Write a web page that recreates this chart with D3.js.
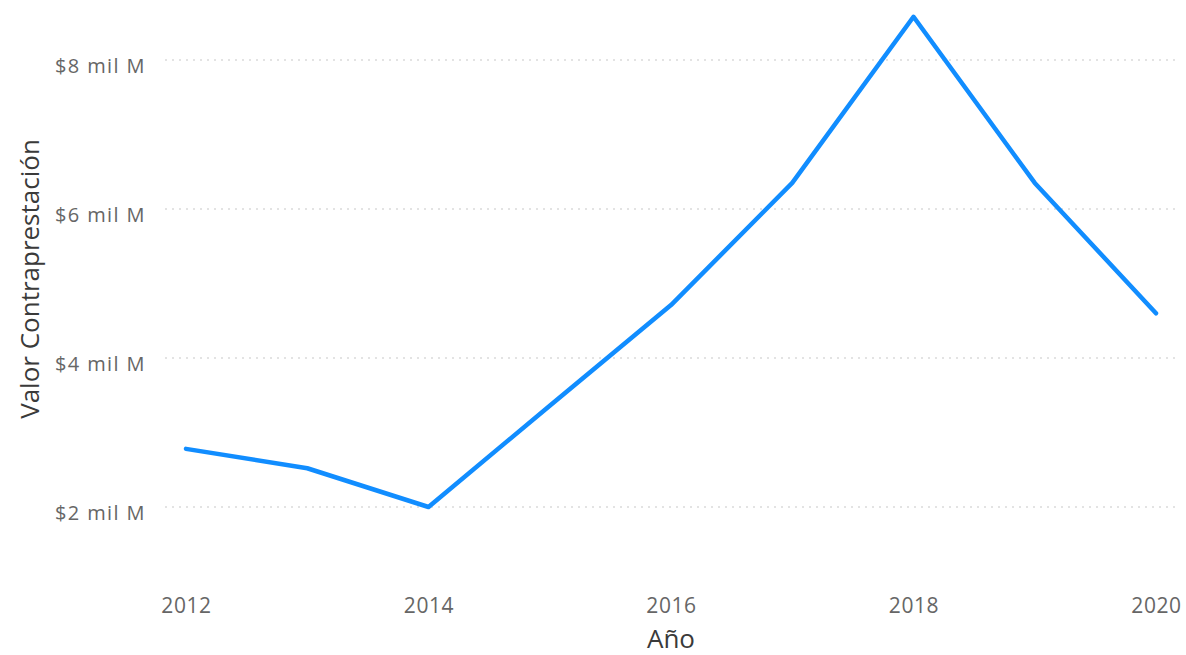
<!DOCTYPE html>
<html>
<head>
<meta charset="utf-8">
<script src="https://cdn.jsdelivr.net/npm/d3@7"></script>
<style>
body { margin: 0; background: #fff; }
svg { font-family: "Open Sans", "Noto Sans", sans-serif; }
</style>
</head>
<body>
<svg></svg>
<script>
// data (miles de millones)
var years = [2012, 2013, 2014, 2015, 2016, 2017, 2018, 2019, 2020];
var valores = [2.78, 2.52, 2.0, 3.36, 4.71, 6.35, 8.58, 6.35, 4.6];
var yTicks = [2, 4, 6, 8];
var xTicks = [2012, 2014, 2016, 2018, 2020];

var screen = {width: 1186, height: 655};

var svg = d3.select("svg")
    .attr("width", screen.width)
    .attr("height", screen.height);

var xScale = d3.scaleLinear()
    .domain([2012, 2020])
    .range([186, 1156]);

var yScale = d3.scaleLinear()
    .domain([2, 8])
    .range([507, 60]);

// gridlines
svg.append("g")
    .selectAll("line")
    .data(yTicks)
    .enter()
    .append("line")
    .attr("x1", 165)
    .attr("x2", 1176)
    .attr("y1", function(d){ return yScale(d); })
    .attr("y2", function(d){ return yScale(d); })
    .attr("stroke", "#c8c8c8")
    .attr("stroke-width", 1.2)
    .attr("stroke-dasharray", "2,5");

var yAxis = d3.axisLeft(yScale)
    .tickValues(yTicks)
    .tickSize(0)
    .tickPadding(0)
    .tickFormat(function(d){ return "$" + d + " mil M"; });

svg.append("g")
    .attr("transform", "translate(146,0)")
    .call(yAxis)
    .call(function(g){ g.select(".domain").remove(); })
    .selectAll("text")
    .attr("dy", "0.6em")
    .attr("font-size", 20)
    .attr("letter-spacing", 1.4)
    .attr("font-family", "Open Sans, sans-serif")
    .attr("fill", "#666");

var xAxis = d3.axisBottom(xScale)
    .tickValues(xTicks)
    .tickSize(0)
    .tickPadding(0)
    .tickFormat(d3.format("d"));

svg.append("g")
    .attr("transform", "translate(0,598)")
    .call(xAxis)
    .call(function(g){ g.select(".domain").remove(); })
    .selectAll("text")
    .attr("font-size", 21)
    .attr("letter-spacing", 0.6)
    .attr("font-family", "Open Sans, sans-serif")
    .attr("fill", "#666");

// axis titles
svg.append("text")
    .attr("x", 671)
    .attr("y", 648)
    .attr("text-anchor", "middle")
    .attr("font-size", 26)
    .attr("fill", "#3a3a3a")
    .text("Año");

svg.append("text")
    .attr("transform", "translate(39,279) rotate(-90)")
    .attr("text-anchor", "middle")
    .attr("font-size", 26)
    .attr("fill", "#3a3a3a")
    .text("Valor Contraprestación");

var lineGenerator = d3.line()
    .x(function(d, i){ return xScale(years[i]); })
    .y(function(d){ return yScale(d); });

svg.append("path")
    .datum(valores)
    .attr("d", lineGenerator)
    .attr("fill", "none")
    .attr("stroke", "#118DFF")
    .attr("stroke-width", 4.5)
    .attr("stroke-linejoin", "round")
    .attr("stroke-linecap", "round");
</script>
</body>
</html>
